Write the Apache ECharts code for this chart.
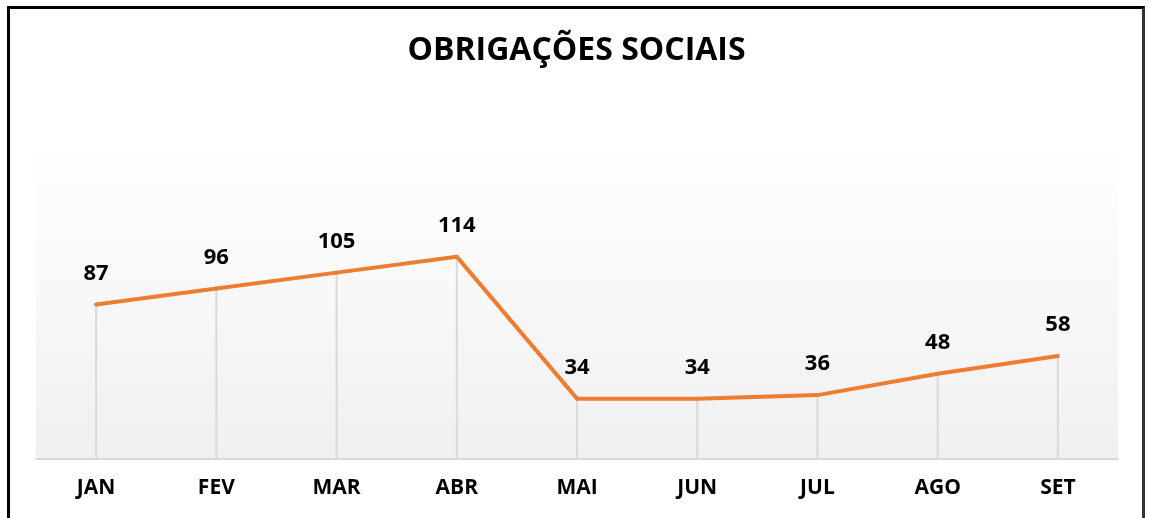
<!DOCTYPE html>
<html>
<head>
<meta charset="utf-8">
<script src="https://cdn.jsdelivr.net/npm/echarts@6/dist/echarts.min.js"></script>
<style>
html,body{margin:0;padding:0;background:#fff;}
#chart{position:absolute;left:0;top:0;width:1153px;height:518px;}
#frame{position:absolute;left:7px;top:6px;width:1138px;height:600px;border:3px solid #000;border-right-color:#333;box-sizing:border-box;pointer-events:none;}
</style>
</head>
<body>
<div id="chart"></div>
<div id="frame"></div>
<script>
const categories = ['JAN','FEV','MAR','ABR','MAI','JUN','JUL','AGO','SET'];
const values = [87, 96, 105, 114, 34, 34, 36, 48, 58];
const titleText = 'OBRIGAÇÕES SOCIAIS';

const chart = echarts.init(document.getElementById('chart'), null, {renderer:'canvas'});
chart.setOption({
  animation: false,
  backgroundColor: 'transparent',
  title: {
    text: titleText,
    left: 'center',
    top: 30,
    textStyle: {fontFamily: 'Open Sans', fontWeight: 'bold', fontSize: 32, color: '#000'}
  },
  grid: {
    left: 36, right: 35, top: 139.5, bottom: 59,
    show: true,
    borderWidth: 0,
    backgroundColor: new echarts.graphic.LinearGradient(0,0,0,1,[
      {offset:0, color:'#ffffff'},
      {offset:1, color:'#f0f0f0'}
    ])
  },
  xAxis: {
    type: 'category',
    data: categories,
    boundaryGap: true,
    axisLine: {show: true, lineStyle: {color: '#d9d9d9', width: 2}},
    axisTick: {show: false},
    splitLine: {show: false},
    axisLabel: {margin: 19, fontFamily: 'Open Sans', fontWeight: 'bold', fontSize: 21, color: '#000'}
  },
  yAxis: {
    type: 'value',
    min: 0, max: 180,
    show: false,
    splitLine: {show: false}
  },
  series: [
    {
      type: 'bar',
      data: values,
      barWidth: 2,
      barGap: '-100%',
      itemStyle: {color: '#d9d9d9'},
      silent: true,
      z: 1
    },
    {
      type: 'line',
      data: values,
      symbol: 'circle',
      showSymbol: true,
      symbolSize: 4,
      itemStyle: {color: '#ED7D31'},
      lineStyle: {color: '#ED7D31', width: 4},
      label: {
        show: true,
        position: 'top',
        distance: 18,
        fontFamily: 'Open Sans',
        fontWeight: 'bold',
        fontSize: 22,
        color: '#000'
      },
      z: 3
    }
  ]
});
</script>
</body>
</html>
